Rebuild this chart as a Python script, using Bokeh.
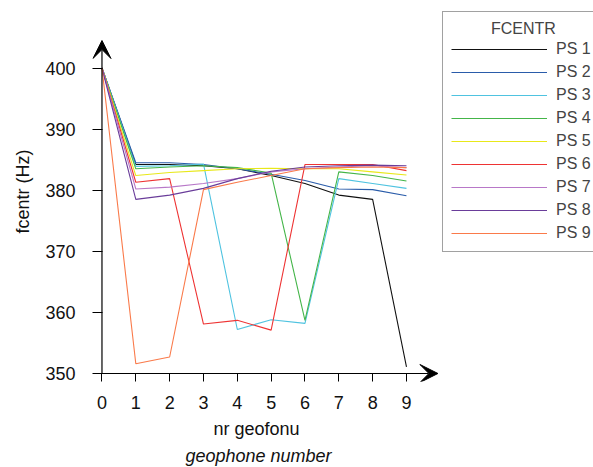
from bokeh.plotting import figure
from bokeh.models import Range1d, FixedTicker, Arrow, VeeHead, Title, Legend, LegendItem
from bokeh.embed import file_html
from bokeh.resources import INLINE

geophones = [0, 1, 2, 3, 4, 5, 6, 7, 8, 9]
series_names = ["PS 1", "PS 2", "PS 3", "PS 4", "PS 5", "PS 6", "PS 7", "PS 8", "PS 9"]
ps1 = [400, 384.2, 384.2, 384.0, 383.5, 382.4, 381.1, 379.2, 378.5, 351.1]
ps2 = [400, 384.5, 384.5, 384.2, 383.5, 382.6, 381.6, 380.2, 380.1, 379.1]
ps3 = [400, 383.9, 384.0, 384.3, 357.2, 358.8, 358.2, 381.9, 381.1, 380.3]
ps4 = [400, 383.5, 383.8, 384.0, 383.7, 382.8, 358.7, 383.0, 382.4, 381.5]
ps5 = [400, 382.4, 382.9, 383.2, 383.5, 383.6, 383.5, 383.5, 383.0, 382.5]
ps6 = [400, 381.3, 381.9, 358.1, 358.7, 357.1, 384.2, 384.2, 384.2, 383.2]
ps7 = [400, 380.2, 380.5, 381.1, 381.9, 383.0, 383.5, 383.8, 384.0, 383.7]
ps8 = [400, 378.5, 379.2, 380.3, 381.9, 383.1, 383.8, 384.0, 384.1, 384.0]
ps9 = [400, 351.6, 352.7, 380.1, 381.3, 382.4, 383.5, 383.7, 383.8, 383.7]
series = [ps1, ps2, ps3, ps4, ps5, ps6, ps7, ps8, ps9]
colors = ["#111111", "#2a5caa", "#4fc3e0", "#44b549", "#e8e81a",
          "#ee3333", "#b878c8", "#6a3d9a", "#fa7a4a"]
y_ticks = [350, 360, 370, 380, 390, 400]
legend_title = "FCENTR"
x_title = "nr geofonu"
x_title_en = "geophone number"
y_title = "fcentr (Hz)"

X_LO, X_HI = -0.28, 14.528
Y_LO, Y_HI = 348.69, 411.05
X_AXIS_AT, Y_AXIS_AT = 0, 350
X_ARROW, Y_ARROW = 9.93, 404.5
FONT = "Liberation Sans"

p = figure(width=593, height=467, x_range=Range1d(X_LO, X_HI), y_range=Range1d(Y_LO, Y_HI),
           output_backend="svg", toolbar_location=None,
           min_border_left=91, min_border_right=0, min_border_top=0, min_border_bottom=86)
p.outline_line_color = None
p.xgrid.visible = False
p.ygrid.visible = False

items = []
for name, vals, col in zip(series_names, series, colors):
    r = p.line(geophones, vals, line_color=col, line_width=1.1)
    items.append(LegendItem(label=name, renderers=[r]))

for ax in (p.xaxis[0], p.yaxis[0]):
    ax.axis_line_color = None
    ax.major_tick_out = 0
    ax.minor_tick_out = 0
    ax.minor_tick_in = 0
    ax.major_tick_line_color = "black"
    ax.major_label_text_font = FONT
    ax.major_label_text_font_size = "18px"
    ax.major_label_text_color = "#111111"

p.xaxis[0].ticker = FixedTicker(ticks=geophones)
p.yaxis[0].ticker = FixedTicker(ticks=y_ticks)
p.yaxis[0].major_tick_in = 10
p.xaxis[0].major_tick_in = 8
p.xaxis[0].major_label_standoff = 14
p.yaxis[0].major_label_standoff = 17

# axis lines with arrowheads
p.add_layout(Arrow(end=VeeHead(size=18, fill_color="black", line_color="black"),
                   x_start=X_AXIS_AT, y_start=Y_AXIS_AT, x_end=X_AXIS_AT, y_end=Y_ARROW,
                   line_color="black", line_width=1.2))
p.add_layout(Arrow(end=VeeHead(size=18, fill_color="black", line_color="black"),
                   x_start=X_AXIS_AT, y_start=Y_AXIS_AT, x_end=X_ARROW, y_end=Y_AXIS_AT,
                   line_color="black", line_width=1.2))

p.add_layout(Title(text=x_title, align="left", offset=121, standoff=10,
                   text_font=FONT, text_font_size="18px", text_font_style="normal",
                   text_color="#111111"), "below")
p.add_layout(Title(text=x_title_en, align="left", offset=93, standoff=0,
                   text_font=FONT, text_font_size="18px", text_font_style="italic",
                   text_color="#111111"), "below")
p.add_layout(Title(text=y_title, align="left", offset=148, standoff=20,
                   text_font=FONT, text_font_size="18px", text_font_style="normal",
                   text_color="#111111"), "left")

legend = Legend(items=items, location=(350, 129), title="\u00a0" * 9 + legend_title,
                title_text_font=FONT, title_text_font_size="16px", title_text_font_style="normal",
                label_text_font=FONT, label_text_font_size="16px",
                glyph_width=96, glyph_height=20, label_height=20, label_width=40,
                label_standoff=9, spacing=3, padding=8, title_standoff=1,
                border_line_color="#444444", border_line_width=1, background_fill_alpha=1)
p.add_layout(legend)

open("out.html", "w").write(file_html(p, INLINE))
